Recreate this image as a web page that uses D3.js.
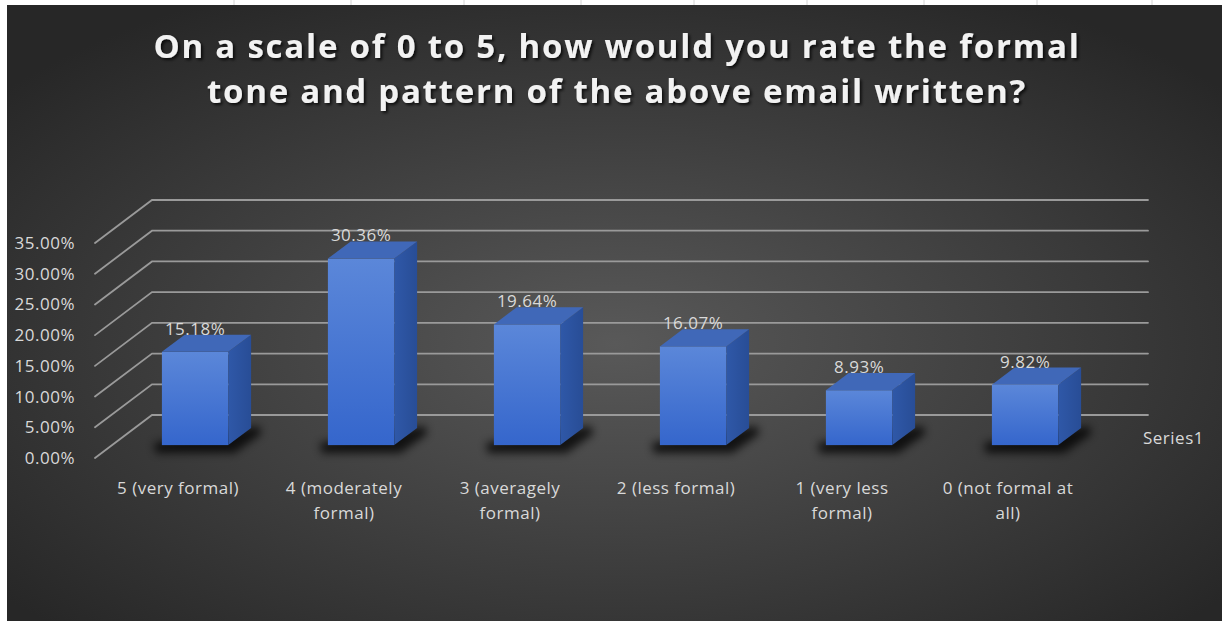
<!DOCTYPE html>
<html>
<head>
<meta charset="utf-8">
<script src="https://cdn.jsdelivr.net/npm/d3@7"></script>
<style>
  html, body { margin: 0; padding: 0; background: #ffffff; }
  svg { display: block; }
</style>
</head>
<body>
<svg id="chart" width="1222" height="621"></svg>
<script>
// Survey answers: share of respondents per rating
const categories = ["5 (very formal)", "4 (moderately\nformal)", "3 (averagely\nformal)",
                    "2 (less formal)", "1 (very less\nformal)", "0 (not formal at\nall)"];
const values = [15.18, 30.36, 19.64, 16.07, 8.93, 9.82];
const yTicks = [0, 5, 10, 15, 20, 25, 30, 35];
const seriesName = "Series1";
const titleLines = ["On a scale of 0 to 5, how would you rate the formal",
                    "tone and pattern of the above email written?"];

const W = 1222, H = 621;
const FONT = "Open Sans, sans-serif";
const LABEL_SIZE = 17, LABEL_SPACING = 0.5, LABEL_COLOR = "#d9d9d9";
const svg = d3.select("#chart");
const defs = svg.append("defs");

// sheet backdrop with faint cell borders above the chart object
svg.append("rect").attr("width", W).attr("height", H).attr("fill", "#ffffff");
svg.selectAll("line.cell").data([234, 351, 464, 581, 694, 807, 924, 1037, 1152]).enter()
  .append("line").attr("class", "cell")
  .attr("x1", d => d).attr("x2", d => d).attr("y1", 0).attr("y2", 5)
  .attr("stroke", "#d4d4d4").attr("stroke-width", 1);

// chart area background: dark radial gradient
const bg = defs.append("radialGradient").attr("id", "bg")
  .attr("cx", "50%").attr("cy", "55%").attr("r", "65%");
bg.append("stop").attr("offset", "0%").attr("stop-color", "#595959");
bg.append("stop").attr("offset", "100%").attr("stop-color", "#272727");
svg.append("rect").attr("x", 7).attr("y", 5).attr("width", W - 7).attr("height", H - 5)
  .attr("fill", "url(#bg)");

// title text shadow
const sh = defs.append("filter").attr("id", "tshadow").attr("x", "-5%").attr("y", "-30%")
  .attr("width", "110%").attr("height", "160%");
sh.append("feDropShadow").attr("dx", 2).attr("dy", 2).attr("stdDeviation", 1.5)
  .attr("flood-color", "#000").attr("flood-opacity", 0.75);

// soft shadow beneath columns
const bs = defs.append("filter").attr("id", "bshadow").attr("x", "-30%").attr("y", "-50%")
  .attr("width", "160%").attr("height", "200%");
bs.append("feGaussianBlur").attr("stdDeviation", 4);

// column face gradients
const gFront = defs.append("linearGradient").attr("id", "gFront")
  .attr("x1", 0).attr("y1", 0).attr("x2", 0).attr("y2", 1);
gFront.append("stop").attr("offset", "0%").attr("stop-color", "#5b87d9");
gFront.append("stop").attr("offset", "100%").attr("stop-color", "#3566cc");
const gSide = defs.append("linearGradient").attr("id", "gSide")
  .attr("x1", 0).attr("y1", 0).attr("x2", 1).attr("y2", 0);
gSide.append("stop").attr("offset", "0%").attr("stop-color", "#2f58a8");
gSide.append("stop").attr("offset", "100%").attr("stop-color", "#284d96");

// ---- 3D geometry (oblique projection) ----
const x0 = 95, x1 = 1091;           // front edge of the floor
const depth = [57, -43];             // offset from front edge to back wall
const barD0 = 0.3, barD1 = 0.7;      // column depth range as fractions of the floor depth
const off = f => [depth[0] * f, depth[1] * f];

const x = d3.scaleBand().domain(d3.range(categories.length)).range([x0, x1])
  .paddingInner(0.6).paddingOuter(0.3);
const y = d3.scaleLinear().domain([0, 35]).range([458, 243]);

const label = sel => sel.attr("font-family", FONT).attr("font-size", LABEL_SIZE)
  .attr("letter-spacing", LABEL_SPACING).attr("fill", LABEL_COLOR);

// gridlines: back wall horizontals + left wall diagonals
const grid = svg.append("g").attr("stroke", "#9a9a9a").attr("stroke-width", 1.8)
  .attr("stroke-linecap", "round").attr("fill", "none");
yTicks.forEach(t => {
  const yf = y(t), yb = y(t) + depth[1];
  grid.append("polyline")
    .attr("points", [[x0, yf], [x0 + depth[0], yb], [x1 + depth[0], yb]].map(p => p.join(",")).join(" "));
});

// y-axis tick labels
svg.append("g").selectAll("text").data(yTicks).enter().append("text")
  .attr("x", 75).attr("y", d => y(d)).attr("dy", "0.35em")
  .attr("text-anchor", "end")
  .call(label)
  .text(d => d3.format(".2f")(d) + "%");

// columns
const [fdx, fdy] = off(barD0);
const [bdx, bdy] = off(barD1);
const bars = svg.append("g").selectAll("g").data(values).enter().append("g");

bars.append("polygon")
  .attr("filter", "url(#bshadow)")
  .attr("fill", "#000").attr("opacity", 0.75)
  .attr("points", (d, i) => {
    const xl = x(i) + fdx, xr = x(i) + x.bandwidth() + fdx, yb = y(0) + fdy;
    return [[xl - 8, yb - 2], [xr + bdx - fdx + 8, yb + bdy - fdy - 2],
            [xr + bdx - fdx + 10, yb + bdy - fdy + 6], [xr + 6, yb + 8], [xl - 6, yb + 8]]
      .map(p => p.join(",")).join(" ");
  });

// front face
bars.append("rect")
  .attr("x", (d, i) => x(i) + fdx)
  .attr("y", d => y(d) + fdy)
  .attr("width", x.bandwidth())
  .attr("height", d => y(0) - y(d))
  .attr("fill", "url(#gFront)");

// right side face
bars.append("polygon")
  .attr("fill", "url(#gSide)")
  .attr("points", (d, i) => {
    const xr = x(i) + x.bandwidth();
    return [[xr + fdx, y(d) + fdy], [xr + bdx, y(d) + bdy], [xr + bdx, y(0) + bdy], [xr + fdx, y(0) + fdy]]
      .map(p => p.join(",")).join(" ");
  });

// top face
bars.append("polygon")
  .attr("fill", "#4068b8")
  .attr("points", (d, i) => {
    const xl = x(i), xr = x(i) + x.bandwidth();
    return [[xl + fdx, y(d) + fdy], [xr + fdx, y(d) + fdy], [xr + bdx, y(d) + bdy], [xl + bdx, y(d) + bdy]]
      .map(p => p.join(",")).join(" ");
  });

// data labels
bars.append("text")
  .attr("x", (d, i) => x(i) + x.bandwidth() / 2 + fdx)
  .attr("y", d => y(d) + bdy)
  .attr("text-anchor", "middle")
  .call(label)
  .text(d => d3.format(".2f")(d) + "%");

// category labels along the front edge
const cat = svg.append("g").selectAll("text").data(categories).enter().append("text")
  .attr("text-anchor", "middle")
  .call(label);
cat.each(function(d, i) {
  const t = d3.select(this);
  d.split("\n").forEach((line, k) => {
    t.append("tspan").attr("x", x(i) + x.bandwidth() / 2).attr("y", 494 + k * 25).text(line);
  });
});

// series (depth axis) label
svg.append("text").attr("x", 1143).attr("y", 444)
  .call(label).text(seriesName);

// title, spaced out to its two line widths
const titleWidths = [927, 820];
const title = svg.append("g").attr("filter", "url(#tshadow)");
titleLines.forEach((line, k) => {
  const t = title.append("text")
    .attr("x", 617).attr("y", 58 + k * 45)
    .attr("text-anchor", "middle")
    .attr("font-family", FONT).attr("font-weight", 700)
    .attr("font-size", 33)
    .attr("fill", "#f2f2f2")
    .text(line);
  const w = t.node().getComputedTextLength();
  t.attr("letter-spacing", Math.max(0, (titleWidths[k] - w) / line.length));
});
</script>
</body>
</html>
